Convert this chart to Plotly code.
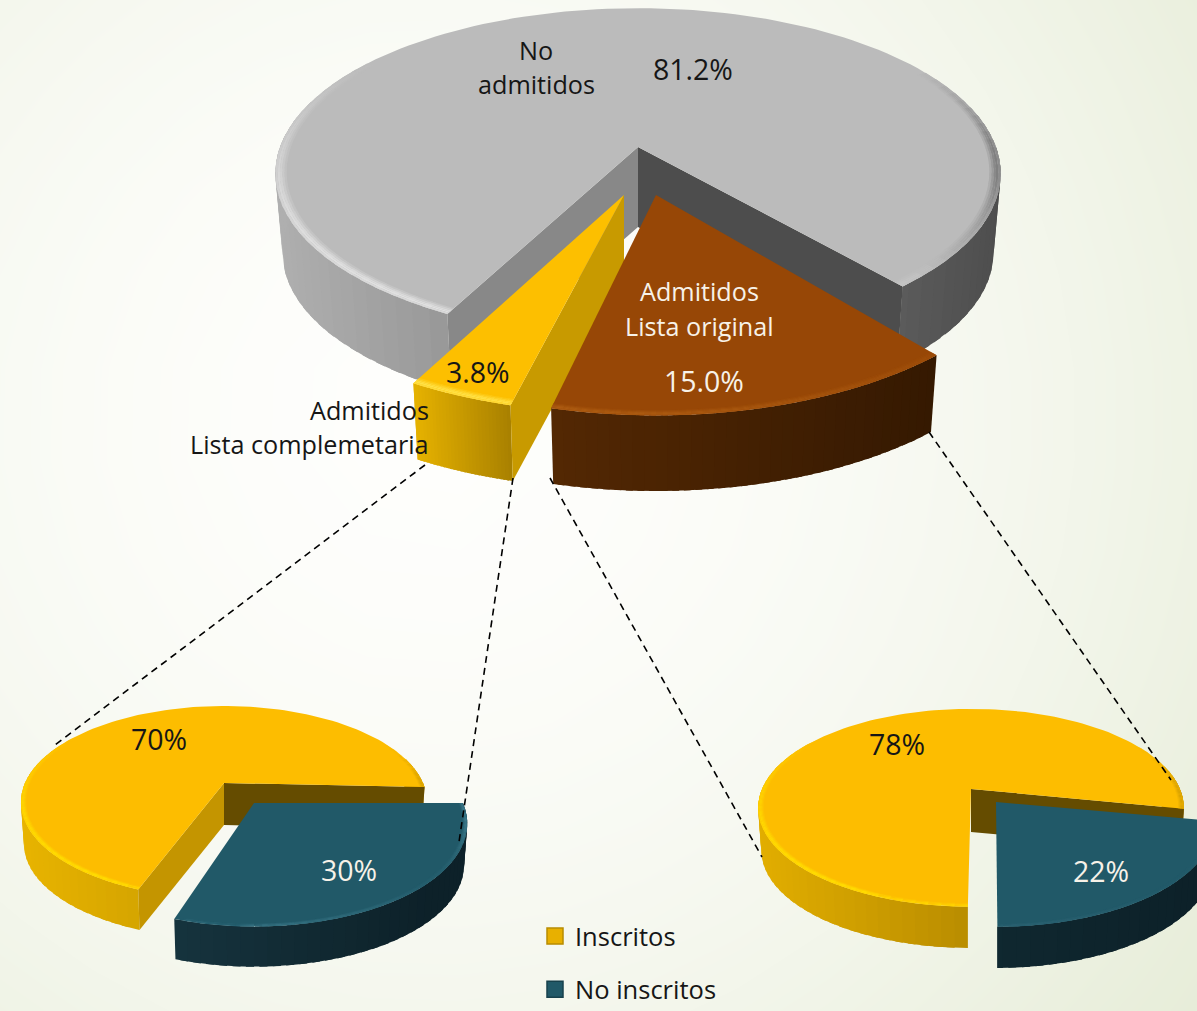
import numpy as np
import plotly.graph_objects as go

# ---------- data ----------
main_categories = ["No admitidos", "Admitidos Lista original", "Admitidos Lista complemetaria"]
main_values = [81.2, 15.0, 3.8]
sub_categories = ["Inscritos", "No inscritos"]
left_values = [70, 30]    # Lista complemetaria
right_values = [78, 22]   # Lista original

W, H = 1197, 1011
traces = []


def mix(a, b, t):
    t = float(np.clip(t, 0, 1))
    return tuple(a[i] + (b[i] - a[i]) * t for i in range(3))


def rgb(h):
    return tuple(int(h[i:i + 2], 16) for i in (1, 3, 5))


def css(c):
    return "rgb(%d,%d,%d)" % tuple(round(v) for v in c)


def poly(xs, ys, color):
    traces.append(go.Scatter(
        x=list(xs), y=list(ys), mode="lines", fill="toself", fillcolor=color,
        line=dict(color=color, width=0), hoverinfo="skip", showlegend=False))


class Pie:
    """Projects a unit disc to the screen with a mild perspective."""

    def __init__(self, cx, cy, rx, ry, k, depth, taper=0.98):
        self.cx, self.cy, self.rx, self.ry, self.k = cx, cy, rx, ry, k
        self.depth, self.taper = depth, taper

    def pt(self, deg, r, apex, sc, bottom=False):
        th = np.radians(deg)
        u, v = np.sin(th) * r, -np.cos(th) * r
        s = 1 / (1 - self.k * v)
        x = u * s * self.rx * sc[0]
        y = v * s * self.ry * sc[1]
        if bottom:
            x *= self.taper
            y = y * self.taper + self.depth
        return apex[0] + x, apex[1] + y

    def arc(self, d0, d1, r, apex, sc, bottom=False):
        pts = [self.pt(d, r, apex, sc, bottom) for d in np.linspace(d0, d1, max(2, int(abs(d1 - d0) / 2) + 2))]
        return [p[0] for p in pts], [p[1] for p in pts]

    def slice(self, start_deg, share, apex, sc, top, walls, rim_light, rim_dark,
              left_wall=None, right_wall=None, rim=0.025, local=False, step=3.0):
        """share is a percentage; the sweep comes directly from it."""
        end_deg = start_deg + share * 3.6
        grid = np.arange(start_deg, end_deg, step)
        top_c, l_c, d_c = rgb(top), rgb(rim_light), rgb(rim_dark)
        xs_min = self.cx - self.rx * 1.03
        span = self.rx * 2.06
        if local:
            ex = self.arc(start_deg, end_deg, 1, apex, sc)[0]
            xs_min, span = min(ex), max(ex) - min(ex)
        # outer wall: each strip overlaps its neighbour so that no seams show
        order = [a for a in grid if -np.cos(np.radians(a + step / 2)) >= -0.25]
        for a in order:
            b = min(a + step * 1.6, end_deg)
            ax, ay = self.arc(a, b, 1, apex, sc)
            bx, by = self.arc(a, b, 1, apex, sc, True)
            t = (self.pt(a + step / 2, 1, apex, sc)[0] - xs_min) / span
            poly(ax + bx[::-1] + ax[:1], ay + by[::-1] + ay[:1], css(mix(rgb(walls[0]), rgb(walls[1]), t)))
        # cut walls
        for deg, col in ((end_deg, left_wall), (start_deg, right_wall)):
            if col is None:
                continue
            p = self.pt(deg, 1, apex, sc)
            q = self.pt(deg, 1, apex, sc, True)
            poly([apex[0], p[0], q[0], apex[0], apex[0]],
                 [apex[1], p[1], q[1], apex[1] + self.depth, apex[1]], col)
        # top face
        ax, ay = self.arc(start_deg, end_deg, 1, apex, sc)
        poly([apex[0]] + ax + [apex[0]], [apex[1]] + ay + [apex[1]], top)
        # soft bevel along the rim: rings from the inside to the outside
        for i, f in enumerate((.25, .55, .85, 1.0, .8)):
            r0 = 1 - rim * (1 - i / 5)
            r1 = 1 - rim * (1 - (i + 1) / 5)
            for a in grid:
                b = min(a + step * 1.4, end_deg)
                m = np.radians(a + step / 2)
                u, v = np.sin(m), -np.cos(m)
                lw = np.clip(-u * .55 + v * .8, 0, 1)
                dw = np.clip(max(u, 0) * max(1 - abs(v - .1) * 1.6, 0) * 1.2, 0, 1)
                c = mix(mix(top_c, l_c, lw * f), d_c, dw * f)
                if lw < .02 and dw < .02:
                    continue
                ax, ay = self.arc(a, b, r0, apex, sc)
                bx, by = self.arc(a, b, r1, apex, sc)
                poly(ax + bx[::-1] + ax[:1], ay + by[::-1] + ay[:1], css(c))
        return end_deg


GRAY, BROWN, GOLD, TEAL = "#bbbbbb", "#974706", "#fdbd00", "#215968"

# ---------- background ----------
gx = np.linspace(0, W, 14)
gy = np.linspace(0, H, 12)
X, Y = np.meshgrid(gx, gy)
Z = np.clip(np.hypot(X - 430, Y - 420) / 950, 0, 1) ** 1.8
traces.append(go.Heatmap(x=gx, y=gy, z=Z, zmin=0, zmax=1, zsmooth="best", showscale=False,
                         colorscale=[[0, "#fefefc"], [1, "#e7edd9"]], hoverinfo="skip"))

# ---------- main pie ----------
main = Pie(638, 147, 358, 161, 0.16, 80)
g_end = 139.5
g_start = g_end - main_values[0] * 3.6
apex_g = (638, 147)
main.slice(g_start, main_values[0], apex_g, (1, 1), GRAY, ("#b0b0b0", "#4d4d4d"),
           "#e2e2e2", "#808080", left_wall="#4d4d4d", right_wall="#888888", rim=.03)

# yellow slice (3.8 %)
y_start = g_end + main_values[1] * 3.6 + 1
main.slice(y_start, main_values[2], (624, 195), (1.07, 1.14), "#fdbf00", ("#e6b200", "#a88000"),
           "#ffe34a", "#e0a800", right_wall="#c89a00", rim=.025, local=True, step=0.5)
# brown slice (15 %)
main.slice(g_end, main_values[1], (656, 195), (1.06, 1.15), BROWN, ("#6a3304", "#2f1601"),
           "#b05f14", "#b05f14", rim=.02, step=1.5)

# ---------- lower-left pie ----------
lp = Pie(224, 783, 199, 92.4, 0.20, 42, taper=0.985)
lp.slice(92.5 + left_values[1] * 3.6, left_values[0], (224, 783), (1, 1), GOLD, ("#e8b400", "#a88000"),
         "#ffe000", "#d9a300", left_wall="#654c00", right_wall="#c49500", rim=.025)
lp.slice(90, left_values[1], (254, 803), (1.05, 1.07), TEAL, ("#1b3f4a", "#0d2129"),
         "#3d7a8b", "#3d7a8b", rim=.02)

# ---------- lower-right pie ----------
rp = Pie(971, 789, 209, 95.4, 0.19, 43, taper=0.985)
rp.slice(101.5 + right_values[1] * 3.6, right_values[0], (971, 789), (1, 1), GOLD, ("#e2ae00", "#8f6b00"),
         "#ffe000", "#d9a300", left_wall="#654c00", rim=.025)
rp.slice(100.5, right_values[1], (996, 802), (1.03, 1.06), TEAL, ("#123038", "#0d2129"),
         "#2f6575", "#2f6575", rim=.02)

# ---------- legend ----------
for name, col, line in zip(sub_categories, ["#e8b000", "#215968"], ["#b88c00", "#17414c"]):
    traces.append(go.Scatter(x=[None], y=[None], mode="markers", name=name, legendgroup=name,
                             marker=dict(symbol="square", size=16, color=col, line=dict(color=line, width=1.5))))

fig = go.Figure(traces)

# ---------- labels ----------
INK, PALE = "#161616", "#f7f2e8"
TXT, NUM = 25.2, 28.5
labels = [
    ("No", 536, 50, "center", INK, TXT), ("admitidos", 536, 84, "center", INK, TXT),
    (f"{main_values[0]:.1f}%", 693, 69, "center", INK, NUM),
    ("Admitidos", 699, 291, "center", PALE, TXT), ("Lista original", 699, 326, "center", PALE, TXT),
    (f"{main_values[1]:.1f}%", 704, 381, "center", PALE, NUM),
    (f"{main_values[2]:.1f}%", 478, 372, "center", INK, NUM),
    ("Admitidos", 431, 410, "right", INK, TXT), ("Lista complemetaria", 431, 444, "right", INK, TXT),
    (f"{left_values[0]}%", 159, 739, "center", INK, NUM), (f"{left_values[1]}%", 349, 870, "center", PALE, NUM),
    (f"{right_values[0]}%", 897, 744, "center", INK, NUM), (f"{right_values[1]}%", 1101, 871, "center", PALE, NUM),
]
annotations = [dict(x=x, y=y, text=t, xref="x", yref="y", xanchor=a, yanchor="middle", showarrow=False,
                    font=dict(family="Open Sans", size=s, color=c)) for t, x, y, a, c, s in labels]

connectors = [((425, 465), (55, 745)), ((513, 478), (459, 842)), ((550, 478), (762, 857)), ((929, 432), (1171, 780))]
shapes = [dict(type="line", xref="x", yref="y", x0=a[0], y0=a[1], x1=b[0], y1=b[1],
               line=dict(color="#000000", width=1.6, dash="7px,5px")) for a, b in connectors]

fig.update_layout(
    width=W, height=H, margin=dict(l=0, r=0, t=0, b=0, autoexpand=False), autosize=False,
    paper_bgcolor="#f8faf3", plot_bgcolor="rgba(0,0,0,0)",
    xaxis=dict(range=[0, W], visible=False, fixedrange=True),
    yaxis=dict(range=[H, 0], visible=False, fixedrange=True),
    annotations=annotations, shapes=shapes, showlegend=True,
    legend=dict(x=535 / W, y=-2 / H, xanchor="left", yanchor="bottom", tracegroupgap=17,
                bgcolor="rgba(0,0,0,0)", font=dict(family="Open Sans", size=25.5, color=INK)),
)
fig.write_html("out.html", config={"displayModeBar": False},
               post_script="document.body.style.margin='0';document.documentElement.style.overflow='hidden';")
